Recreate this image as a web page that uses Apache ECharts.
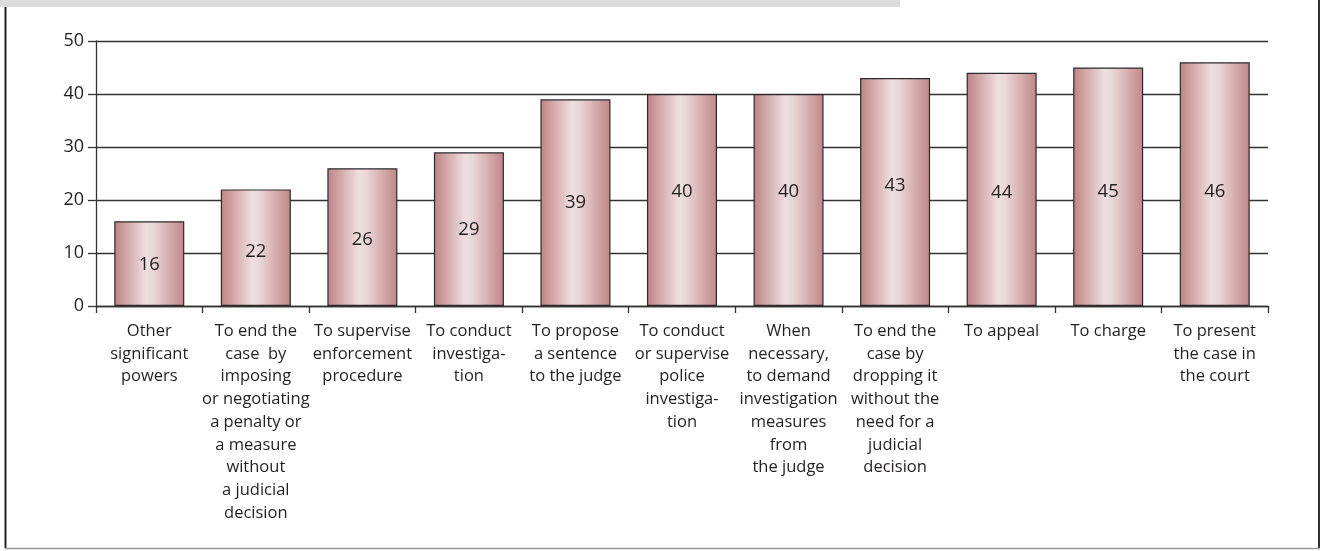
<!DOCTYPE html>
<html>
<head>
<meta charset="utf-8">
<script src="https://cdn.jsdelivr.net/npm/echarts@6/dist/echarts.min.js"></script>
<style>
html,body{margin:0;padding:0;background:#fff;}
#chart{width:1322px;height:551px;}
</style>
</head>
<body>
<div id="chart"></div>
<script>
const categories = [
  "Other\nsignificant\npowers",
  "To end the\ncase  by\nimposing\nor negotiating\na penalty or\na measure\nwithout\na judicial\ndecision",
  "To supervise\nenforcement\nprocedure",
  "To conduct\ninvestiga-\ntion",
  "To propose\na sentence\nto the judge",
  "To conduct\nor supervise\npolice\ninvestiga-\ntion",
  "When\nnecessary,\nto demand\ninvestigation\nmeasures\nfrom\nthe judge",
  "To end the\ncase by\ndropping it\nwithout the\nneed for a\njudicial\ndecision",
  "To appeal",
  "To charge",
  "To present\nthe case in\nthe court"
];
const values = [16, 22, 26, 29, 39, 40, 40, 43, 44, 45, 46];
const yTicks = [0, 10, 20, 30, 40, 50];
// vertical nudge (px) of each value label from the bar's middle, as placed in the original
const labelNudge = [1, 4, 3, 1, 0, -8, -8, -6, 3, 5, 8];

const chart = echarts.init(document.getElementById('chart'), null, {renderer: 'canvas'});
const font = '"Open Sans", "Noto Sans", sans-serif';
const barGradient = new echarts.graphic.LinearGradient(0, 0, 1, 0, [
  {offset: 0, color: '#bf8284'},
  {offset: 0.45, color: '#efdfdf'},
  {offset: 0.55, color: '#ead8d8'},
  {offset: 1, color: '#c28587'}
]);

const barData = values.map((v, i) => ({
  value: v,
  label: {offset: [0, labelNudge[i]]}
}));

chart.setOption({
  animation: false,
  backgroundColor: '#ffffff',
  grid: {left: 96, right: 54, top: 41, bottom: 245, containLabel: false},
  xAxis: {
    type: 'category',
    data: categories,
    axisLine: {show: true, lineStyle: {color: '#333', width: 1.3}},
    axisTick: {show: true, interval: 0, length: 7, lineStyle: {color: '#333', width: 1.3}},
    axisLabel: {
      interval: 0, margin: 14, color: '#231f20',
      fontFamily: font, fontSize: 16.5, lineHeight: 22.7,
      align: 'center', verticalAlign: 'top'
    },
    splitLine: {show: false}
  },
  yAxis: {
    type: 'value',
    min: yTicks[0], max: yTicks[yTicks.length - 1], interval: 10,
    axisLine: {show: true, lineStyle: {color: '#333', width: 1.3}},
    axisTick: {show: true, length: 8, lineStyle: {color: '#333', width: 1.3}},
    axisLabel: {margin: 12, color: '#231f20', fontFamily: font, fontSize: 18},
    splitLine: {show: true, lineStyle: {color: '#333', width: 1.3}}
  },
  series: [{
    type: 'bar',
    data: barData,
    barWidth: 70,
    itemStyle: {color: barGradient, borderColor: '#2b2b2b', borderWidth: 1.2},
    label: {
      show: true, position: 'inside', color: '#231f20',
      fontFamily: font, fontSize: 18.5
    }
  }],
  graphic: [
    {type: 'rect', shape: {x: 0, y: 0, width: 900, height: 7}, style: {fill: '#dcdcdc'}, silent: true},
    {type: 'line', shape: {x1: 5.5, y1: 7, x2: 5.5, y2: 548}, style: {stroke: '#222', lineWidth: 2}, silent: true},
    {type: 'line', shape: {x1: 1319, y1: 0, x2: 1319, y2: 548}, style: {stroke: '#333', lineWidth: 2}, silent: true},
    {type: 'line', shape: {x1: 5, y1: 548.5, x2: 1320, y2: 548.5}, style: {stroke: '#9a9a9a', lineWidth: 1.5}, silent: true}
  ]
});
</script>
</body>
</html>
